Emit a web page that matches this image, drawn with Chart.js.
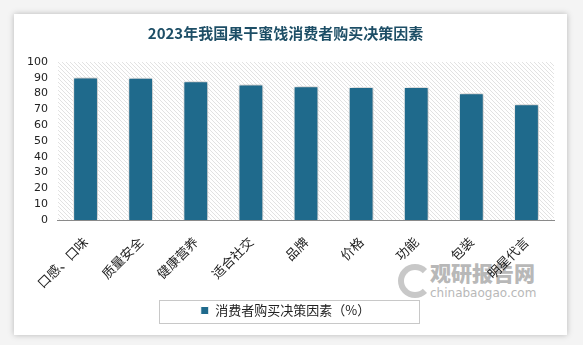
<!DOCTYPE html>
<html>
<head>
<meta charset="utf-8">
<script src="https://cdn.jsdelivr.net/npm/chart.js@4/dist/chart.umd.min.js"></script>
<style>
  body { margin: 0; background: #f4f4f4; width: 583px; height: 345px; overflow: hidden; }
  #card {
    position: absolute; left: 14px; top: 14px; width: 553px; height: 321px;
    background: #fff; box-shadow: 0 0 6px rgba(0,0,0,0.25);
  }
  #wrap { position: absolute; left: 0; top: 0; width: 553px; height: 321px; z-index: 2; }
  #mark {
    position: absolute; left: 416px; top: 248px; color: #b8b8b8; z-index: 1;
    font-family: "Noto Sans CJK SC", sans-serif; line-height: 1;
  }
  #mark .cn { font-size: 21px; font-weight: 900; }
  #mark .en { font-size: 12px; margin-top: 4px; font-family: "DejaVu Sans", sans-serif; }
  #ring {
    position: absolute; left: 384px; top: 250px; width: 22px; height: 22px; z-index: 1;
    border: 6px solid #c8c8c8; border-radius: 50%; border-right-color: transparent;
  }
</style>
</head>
<body>
<div id="card">
  <div id="ring"></div>
  <div id="mark"><div class="cn">观研报告网</div><div class="en">chinabaogao.com</div></div>
  <div id="wrap"><canvas id="barChart"></canvas></div>
</div>
<script>
// Categories (purchase decision factors)
const factorLabels = [
    '口感、口味', '质量安全', '健康营养', '适合社交', '品牌',
    '价格', '功能', '包装', '明星代言'
];

// Share of consumers (%)
const factorValues = [90.2, 90.1, 87.8, 85.8, 84.6, 84.1, 84.1, 80.3, 73.2];

// Y axis ticks
const yTicks = [0, 10, 20, 30, 40, 50, 60, 70, 80, 90, 100];

const seriesName = '消费者购买决策因素（%）';
const barColor = '#1f6a8c';

// Diagonal hatch pattern for the plot background
function makeHatch() {
    const c = document.createElement('canvas');
    c.width = 4; c.height = 4;
    const g = c.getContext('2d');
    g.strokeStyle = '#e2e2e2';
    g.lineWidth = 1;
    g.beginPath();
    g.moveTo(0, 0); g.lineTo(4, 4);
    g.moveTo(-1, 3); g.lineTo(1, 5);
    g.moveTo(3, -1); g.lineTo(5, 1);
    g.stroke();
    return c;
}

const hatchPlugin = {
    id: 'hatch',
    beforeDatasetsDraw(chart) {
        const { ctx, chartArea: a } = chart;
        ctx.save();
        ctx.fillStyle = ctx.createPattern(makeHatch(), 'repeat');
        ctx.fillRect(a.left, a.top, a.right - a.left, a.bottom - a.top);
        ctx.restore();
        // soft shadow for the bars
        ctx.save();
        ctx.shadowColor = 'rgba(0,0,0,0.35)';
        ctx.shadowBlur = 5;
        ctx.shadowOffsetX = 1;
        ctx.shadowOffsetY = 0;
    },
    afterDatasetsDraw(chart) {
        chart.ctx.restore();
    }
};

// Border around the legend
const legendBoxPlugin = {
    id: 'legendBox',
    afterDraw(chart) {
        const lg = chart.legend;
        if (!lg) return;
        const ctx = chart.ctx;
        const cx = chart.width / 2 - 2;
        const cy = (lg.top + lg.bottom) / 2;
        ctx.save();
        ctx.strokeStyle = '#c8c8c8';
        ctx.lineWidth = 1;
        ctx.strokeRect(Math.round(cx - 130) + 0.5, Math.round(cy - 12) + 0.5, 260, 23);
        ctx.restore();
    }
};

const ctx = document.getElementById('barChart').getContext('2d');
const barChart = new Chart(ctx, {
    type: 'bar',
    data: {
        labels: factorLabels,
        datasets: [{
            label: seriesName,
            data: factorValues,
            backgroundColor: barColor,
            borderColor: '#ffffff',
            borderWidth: 1,
            barPercentage: 0.45,
            categoryPercentage: 1.0
        }]
    },
    options: {
        responsive: true,
        maintainAspectRatio: false,
        animation: false,
        layout: { padding: { left: 3, right: 13, top: 4, bottom: 8 } },
        scales: {
            y: {
                min: 0,
                max: 100,
                afterBuildTicks(axis) {
                    axis.ticks = yTicks.map(v => ({ value: v }));
                },
                grid: { display: false, drawTicks: false },
                border: { display: false },
                ticks: {
                    autoSkip: false,
                    padding: 10,
                    color: '#222',
                    font: { family: 'DejaVu Sans', size: 11 }
                }
            },
            x: {
                afterFit(scale) {
                    scale.height = 76;
                },
                grid: { display: false, drawTicks: false },
                border: { display: true, color: '#8a8a8a', width: 1 },
                ticks: {
                    autoSkip: false,
                    minRotation: 45,
                    maxRotation: 45,
                    padding: 14,
                    color: '#222',
                    font: { family: 'Noto Sans CJK SC', size: 13 }
                }
            }
        },
        plugins: {
            title: {
                display: true,
                text: '2023年我国果干蜜饯消费者购买决策因素',
                color: '#1d4e66',
                font: { family: 'Noto Sans CJK SC', size: 15, weight: 'bold' },
                padding: { top: 6, bottom: 20 }
            },
            legend: {
                position: 'bottom',
                labels: {
                    boxWidth: 8,
                    boxHeight: 8,
                    color: '#222',
                    padding: 8,
                    font: { family: 'Noto Sans CJK SC', size: 13 }
                }
            },
            tooltip: { enabled: false }
        }
    },
    plugins: [hatchPlugin, legendBoxPlugin]
});
</script>
</body>
</html>
